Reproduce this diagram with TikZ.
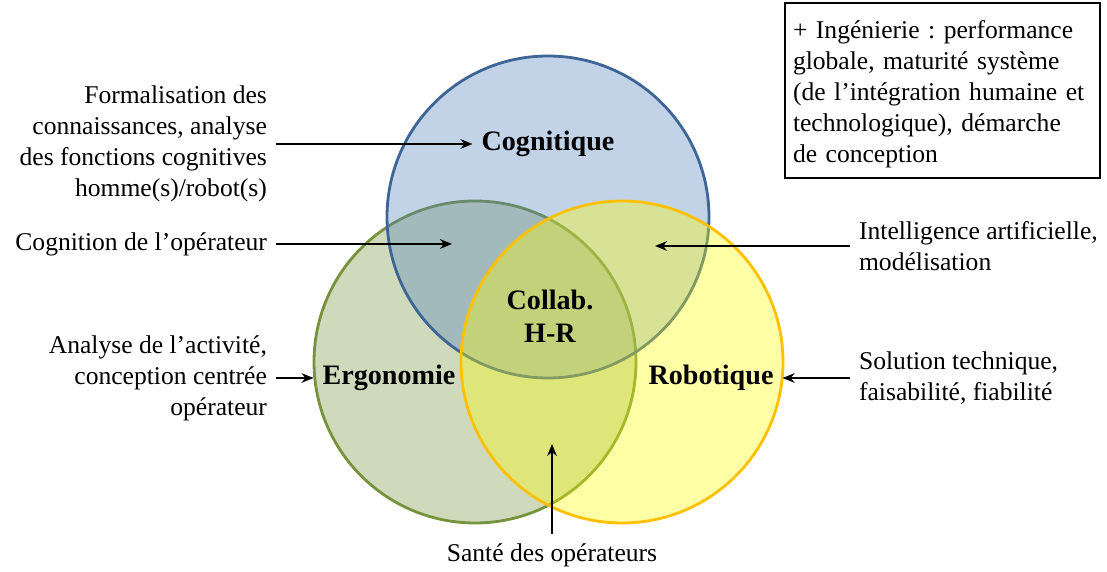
\documentclass[tikz,border=0pt]{standalone}
\usepackage{fontspec}
\setmainfont{Liberation Serif}
\usepackage{tikz}
\usetikzlibrary{arrows.meta,positioning}
\definecolor{cogblue}{HTML}{4F81BD}
\definecolor{cogline}{HTML}{3D6595}
\definecolor{ergogreen}{HTML}{76923C}
\definecolor{robyellow}{HTML}{FFFF00}
\definecolor{robline}{HTML}{FFC000}
\tikzset{
  venn/.style={circle, minimum size=8.05cm, inner sep=0pt, line width=2pt, fill opacity=0.35},
  lbl/.style={font=\fontsize{18.2}{22}\selectfont\frenchspacing, inner sep=0.22cm},
  fieldname/.style={font=\fontsize{20}{23.5}\selectfont\bfseries, align=center, inner sep=0.22cm},
  arrow/.style={-{Stealth[length=3mm,width=2.4mm]}, line width=1.4pt, draw=black},
  infobox/.style={draw=black, line width=0.9pt, align=left, text width=7.475cm, minimum height=4.375cm, inner sep=0.2cm, font=\fontsize{18.2}{22}\selectfont\frenchspacing}
}

\begin{document}
\begin{tikzpicture}
  \useasboundingbox (0,0) rectangle (27.675,14.3);

  % the three fields
  \node[venn, draw=ergogreen, fill=ergogreen] (ergo) at (11.875,5.25) {};
  \node[venn, draw=cogline, fill=cogblue] (cog) at (13.70,8.875) {};
  \node[venn, draw=robline, fill=robyellow] (robo) at (15.55,5.25) {};

  \node[fieldname] (tcog) at (13.70,10.70) {Cognitique};
  \node[fieldname] (tergo) at (9.725,4.85) {Ergonomie};
  \node[fieldname] (trobo) at (17.775,4.85) {Robotique};
  \node[fieldname] (tcollab) at (13.75,6.40) {Collab.\\H-R};

  % contributions
  \node[lbl, anchor=east, align=right] (formal) at (6.90,10.70) {Formalisation des\\connaissances, analyse\\des fonctions cognitives\\homme(s)/robot(s)};
  \node[lbl, anchor=east] (cognop) at (6.90,8.20) {Cognition de l’opérateur};
  \node[lbl, anchor=east, align=right] (activ) at (6.90,4.85) {Analyse de l’activité,\\conception centrée\\opérateur};
  \node[lbl, anchor=west, align=left] (ia) at (21.25,8.15) {Intelligence artificielle,\\modélisation};
  \node[lbl, anchor=west, align=left] (solution) at (21.25,4.85) {Solution technique,\\faisabilité, fiabilité};
  \node[lbl] (sante) at (13.80,0.425) {Santé des opérateurs};
  \node[infobox] (inge) at (23.5625,12.0375) {\rule{0pt}{0.65cm}+ Ingénierie : performance\\globale, maturité système\\(de l’intégration humaine et\\technologique), démarche\\de conception};

  \coordinate (cogergo) at (11.30,8.20);
  \coordinate (cogrobo) at (16.375,8.15);
  \coordinate (ergorobo) at (13.80,3.20);

  \draw[arrow] (formal.east) -- (tcog.west);
  \draw[arrow] (cognop.east) -- (cogergo);
  \draw[arrow] (activ.east) -- (tergo.west);
  \draw[arrow] (ia.west) -- (cogrobo);
  \draw[arrow] (solution.west) -- (trobo.east);
  \draw[arrow] (sante.north) -- (ergorobo);
\end{tikzpicture}
\end{document}
